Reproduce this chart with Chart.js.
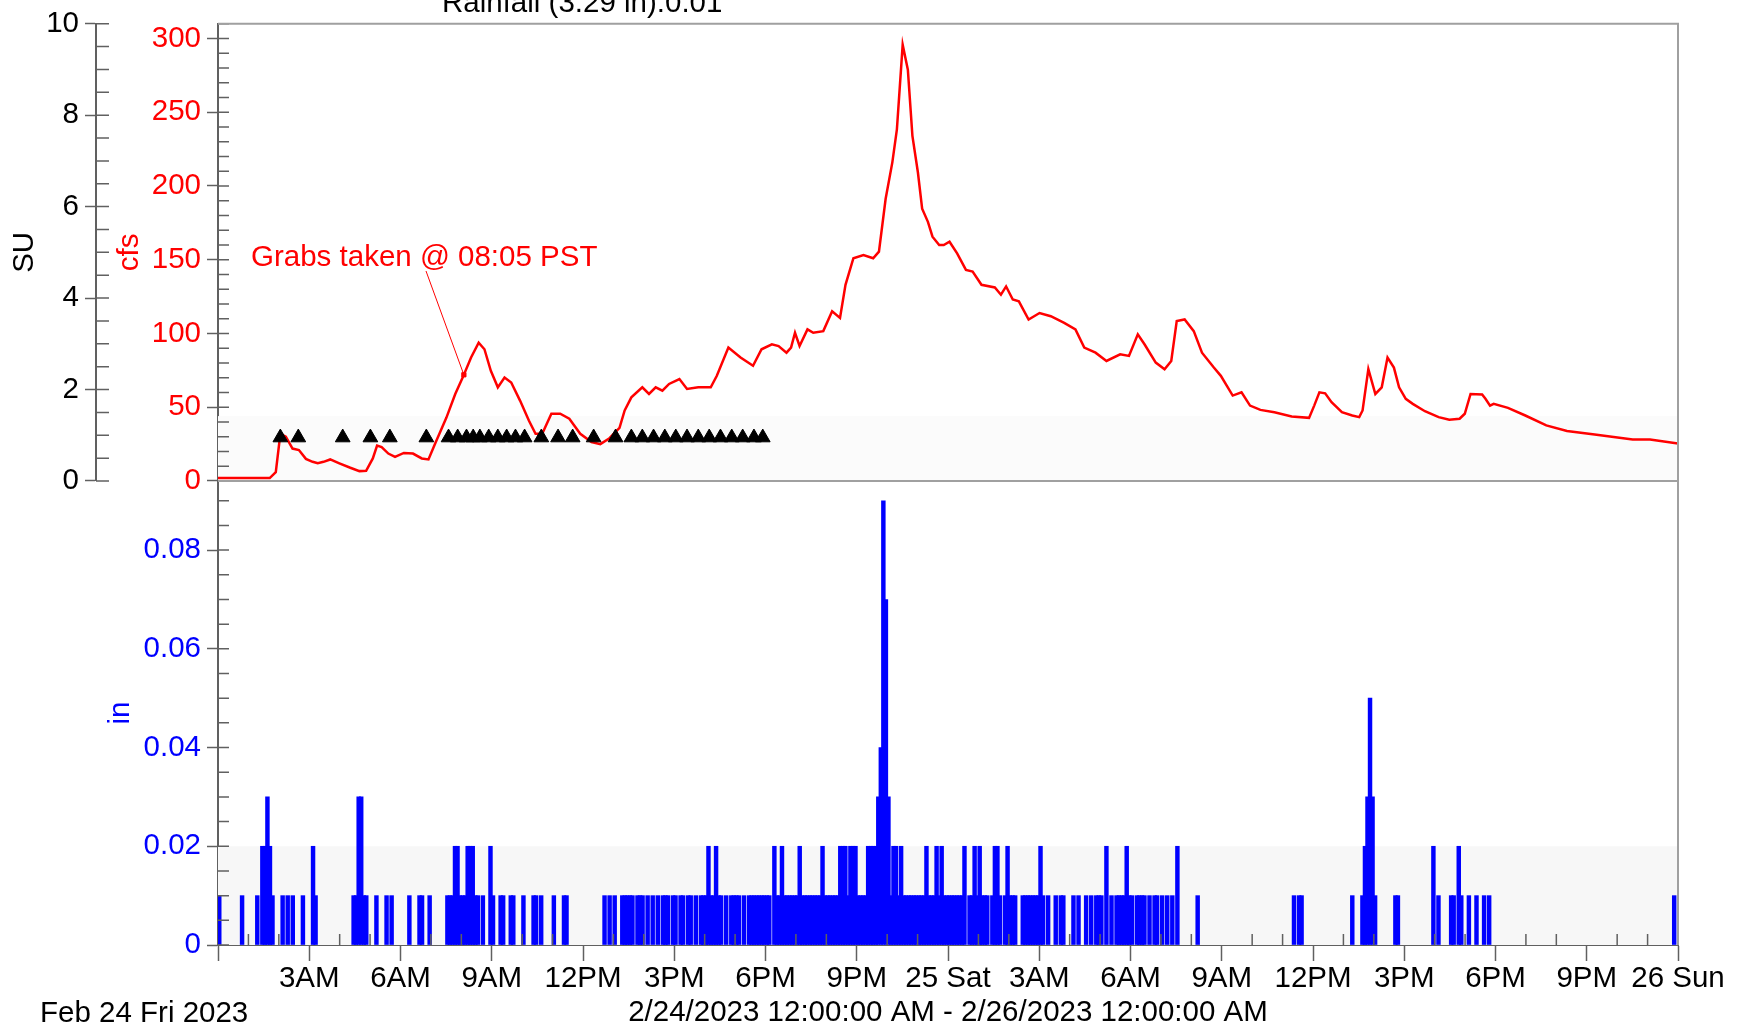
<!DOCTYPE html>
<html>
<head>
<meta charset="utf-8">
<script src="https://cdn.jsdelivr.net/npm/chart.js@4.4.0/dist/chart.umd.min.js"></script>
<style>
  html, body { margin: 0; padding: 0; background: #fff; }
  #wrap { position: relative; width: 1743px; height: 1031px; overflow: hidden;
          font-family: "Liberation Sans", Arial, sans-serif; }
  canvas { position: absolute; left: 0; top: 0; }
  .txt { position: absolute; white-space: nowrap; font-size: 29.5px; line-height: 29.5px; }
</style>
</head>
<body>
<div id="wrap">
  <canvas id="rainChart" width="1743" height="1031"></canvas>
  <canvas id="flowChart" width="1743" height="1031"></canvas>
  <div class="txt" style="left:442px; top:-13px; color:#000;">Rainfall (3.29 in):0.01</div>
  <div class="txt" style="left:251px; top:241px; color:#ff0000;">Grabs taken @ 08:05 PST</div>
  <div class="txt" style="left:40px; top:997px; color:#000;">Feb 24 Fri 2023</div>
</div>

<script>
// --- Data (hours since 2/24/2023 00:00) ---
const flowHours = [
  0, 1.7, 1.9, 2.05, 2.23, 2.45, 2.66, 2.89, 3.11, 3.28, 3.47, 3.69, 3.99, 4.35, 4.65, 4.87,
  5.09, 5.23, 5.38, 5.6, 5.82, 6.11, 6.41, 6.7, 6.92, 7.14, 7.51, 7.8, 8.07, 8.32, 8.57, 8.76,
  8.97, 9.2, 9.42, 9.64, 9.93, 10.22, 10.44, 10.66, 10.96, 11.25, 11.55, 11.91, 12.28,
  12.57, 12.87, 13.2, 13.37, 13.59, 13.95, 14.17, 14.39, 14.61, 14.83, 15.17, 15.42, 15.79,
  16.2, 16.4, 16.78, 17.18, 17.59, 17.87, 18.21, 18.43, 18.69, 18.84, 18.97, 19.12, 19.38,
  19.57, 19.9, 20.19, 20.45, 20.63, 20.89, 21.22, 21.54, 21.73, 21.95, 22.17, 22.32, 22.51,
  22.68, 22.83, 23.01, 23.15, 23.34, 23.49, 23.71, 23.86, 24.05, 24.3, 24.59, 24.81, 25.1,
  25.54, 25.74, 25.91, 26.13, 26.33, 26.65, 27.01, 27.38, 27.82, 28.19, 28.48, 28.85, 29.21,
  29.66, 29.95, 30.24, 30.46, 30.83, 31.12, 31.34, 31.52, 31.78, 32.08,
  32.35, 32.74, 32.97, 33.36, 33.65, 33.93, 34.27, 34.73, 35.3, 35.87, 36.04, 36.21, 36.4,
  36.61, 36.95, 37.29, 37.52, 37.63, 37.82, 38.05, 38.26, 38.45, 38.66, 38.83, 39.05, 39.28,
  39.68, 40.13, 40.48, 40.82, 40.99, 41.18, 41.56, 41.67, 41.82, 41.94, 42.41, 42.98, 43.67,
  44.35, 45.26, 46.51, 47.08, 48
];
const flowCfs = [
  2, 2, 6, 32, 30, 22, 21, 15, 13, 12, 13, 14.6, 12, 9, 6.7, 6.9,
  15.3, 24, 23, 18.6, 16.4, 19, 18.6, 15.3, 14.6, 25.4, 43, 59, 71.3, 83.7, 93.8, 89.3,
  74.7, 63.5, 70.2, 66.8, 54.5, 41, 32, 32, 45.6, 45.6, 42.2, 32, 26.4,
  25, 29, 36, 47.8, 56.7, 63.5, 59, 63.5, 61.2, 65.8, 69.1, 62.4, 63.5,
  63.5, 71.3, 90.4, 83.7, 78.1, 89.3, 92.7, 91.5, 87, 90.4, 100.5, 91.5, 102.8,
  100.5, 101.6, 115.1, 110.6, 133, 151, 153.2, 151, 155.5, 191.3, 216, 238.4, 295.7,
  278.8, 234, 209.3, 184.6, 175.7, 165.6, 160, 160, 162.2, 154.3, 143.1, 142, 133,
  131.2, 126.3, 131.9, 123, 121.8, 109.5, 113.9, 111.7, 107.2, 102.8, 90.4, 87, 81.4,
  85.9, 84.8, 99.4, 92.7, 80.3, 75.8, 81.4, 108.4, 109.5, 101.6,
  87, 76.9, 71.3, 57.9, 60.1, 51.1, 48.2, 46.6, 43.7, 42.8, 51.1, 60.1, 59.4,
  53.4, 46.6, 44.4, 43.3, 47.8, 75.8, 59, 63.5, 83.7, 76.9, 63.5, 55.7, 52.3,
  47.3, 43.3, 41.5, 42.2, 45.6, 59, 58.6, 55.7, 51.1, 52.3, 49.6, 44.4, 37.7,
  33.9, 31.6, 28.1, 28.1, 25.4
];

// sampler events (black triangles), drawn on the SU axis
const sampleHours = [
  2.05, 2.64, 4.1, 5.01, 5.65, 6.85, 7.58, 7.88, 8.17, 8.39, 8.61, 8.9, 9.2, 9.49, 9.78,
  10.08, 10.63, 11.18, 11.66, 12.35, 13.07, 13.59, 13.95, 14.32, 14.69, 15.05, 15.42,
  15.79, 16.15, 16.52, 16.89, 17.25, 17.62, 17.91
];
const sampleSU = 0.95;

const grabHour = 8 + 5 / 60;
const grabCfs = 72;

// rainfall per 5-minute interval, hundredths of an inch (one row per hour)
const rainHundredths = [
  1,0,0,0,0,0,0,0,0,1,0,0,
  0,0,0,1,0,2,2,3,2,1,0,0,
  0,1,0,1,0,1,0,0,0,1,0,0,
  0,2,1,0,0,0,0,0,0,0,0,0,
  0,0,0,0,0,1,1,3,3,1,1,0,
  0,0,1,0,0,0,1,0,1,0,0,0,
  0,0,0,1,0,0,0,1,1,0,0,1,
  0,0,0,0,0,0,1,1,1,2,2,1,
  1,1,2,2,2,1,1,0,1,0,0,2,
  1,0,0,1,1,0,0,1,1,0,0,0,
  1,0,0,0,1,1,0,1,0,0,0,0,
  1,0,0,0,1,1,0,0,0,0,0,0,
  0,0,0,0,0,0,0,0,1,0,1,0,
  1,0,0,1,1,1,1,1,0,1,1,1,
  0,1,0,1,0,1,0,1,1,1,0,1,
  1,0,1,1,0,1,1,0,1,0,1,1,
  1,2,1,1,2,1,1,0,1,0,1,1,
  1,1,0,1,0,1,1,1,1,1,1,1,
  1,1,0,2,1,1,2,1,1,1,1,1,
  1,2,1,1,1,1,1,1,1,1,2,1,
  1,1,1,1,1,2,2,2,1,2,2,2,
  1,1,1,1,2,2,2,2,3,4,9,7,
  3,1,2,2,1,2,1,1,1,1,1,1,
  1,1,1,2,1,1,1,2,1,2,1,1,
  1,1,1,1,1,1,2,0,1,1,2,1,
  2,1,1,1,0,1,2,2,1,0,1,2,
  1,1,1,0,0,1,1,1,1,1,1,1,
  2,1,0,1,0,0,1,0,1,1,0,0,
  0,1,0,1,0,0,1,0,1,0,1,1,
  1,0,2,0,1,0,1,1,1,1,2,1,
  1,0,1,1,1,1,0,1,0,1,1,0,
  1,0,1,0,1,0,2,0,0,0,0,0,
  0,0,1,0,0,0,0,0,0,0,0,0,
  0,0,0,0,0,0,0,0,0,0,0,0,
  0,0,0,0,0,0,0,0,0,0,0,0,
  0,0,0,0,1,0,1,1,0,0,0,0,
  0,0,0,0,0,0,0,0,0,0,0,0,
  0,0,0,1,0,0,0,1,2,3,5,3,
  1,0,0,0,0,0,0,0,1,1,0,0,
  0,0,0,0,0,0,0,0,0,0,0,2,
  0,1,0,0,0,0,1,1,0,2,1,0,
  0,1,0,0,1,0,0,1,0,1,0,0,
  0,0,0,0,0,0,0,0,0,0,0,0,
  0,0,0,0,0,0,0,0,0,0,0,0,
  0,0,0,0,0,0,0,0,0,0,0,0,
  0,0,0,0,0,0,0,0,0,0,0,0,
  0,0,0,0,0,0,0,0,0,0,0,0,
  0,0,0,0,0,0,0,0,0,0,1,0
];

const xTickHours = [0, 3, 6, 9, 12, 15, 18, 21, 24, 27, 30, 33, 36, 39, 42, 45, 48];
const xTickLabels = ['', '3AM', '6AM', '9AM', '12PM', '3PM', '6PM', '9PM', '25 Sat',
                     '3AM', '6AM', '9AM', '12PM', '3PM', '6PM', '9PM', '26 Sun'];
const rangeTitle = '2/24/2023 12:00:00 AM - 2/26/2023 12:00:00 AM';

// --- Common look ---
Chart.defaults.font.family = '"Liberation Sans", Arial, sans-serif';
Chart.defaults.font.size = 29.5;
Chart.defaults.color = '#000';
const axisGray = '#606060';
const frameGray = '#a0a0a0';

// minor ticks drawn inside the plot
const minorTicks = {
  id: 'minorTicks',
  afterDatasetsDraw(chart, args, opts) {
    const ctx = chart.ctx;
    ctx.save();
    ctx.strokeStyle = axisGray;
    ctx.lineWidth = 1.5;
    ctx.beginPath();
    for (const m of opts.list || []) {
      const s = chart.scales[m.axis];
      const n = Math.floor((s.max - s.min) / m.step + 1e-6);
      for (let i = 0; i <= n; i++) {
        if (m.skipEvery && i % m.skipEvery === 0) continue;
        const p = s.getPixelForValue(s.min + i * m.step);
        if (s.isHorizontal()) {
          ctx.moveTo(p, s.top);
          ctx.lineTo(p, s.top - m.len);
        } else {
          ctx.moveTo(s.right, p);
          ctx.lineTo(s.right + m.len, p);
        }
      }
    }
    ctx.stroke();
    ctx.restore();
  }
};

// light background band + plot frame
const panel = {
  id: 'panel',
  beforeDatasetsDraw(chart, args, opts) {
    const {ctx, chartArea: a} = chart;
    if (opts.band) {
      const s = chart.scales[opts.band.axis];
      const y1 = s.getPixelForValue(opts.band.to);
      const y0 = s.getPixelForValue(0);
      ctx.save();
      ctx.fillStyle = opts.band.color;
      ctx.fillRect(a.left, y1, a.right - a.left, y0 - y1);
      ctx.restore();
    }
  },
  afterDatasetsDraw(chart, args, opts) {
    const {ctx, chartArea: a} = chart;
    ctx.save();
    ctx.strokeStyle = frameGray;
    ctx.lineWidth = 2;
    ctx.beginPath();
    ctx.moveTo(a.left, a.top);
    ctx.lineTo(a.right, a.top);
    ctx.lineTo(a.right, a.bottom);
    if (opts.closeBottom) ctx.lineTo(a.left, a.bottom);
    ctx.stroke();
    if (opts.leader) {
      const x = chart.scales.x.getPixelForValue(grabHour);
      const y = chart.scales.cfs.getPixelForValue(grabCfs);
      ctx.strokeStyle = '#ff0000';
      ctx.lineWidth = 1;
      ctx.beginPath();
      ctx.moveTo(opts.leader[0], opts.leader[1]);
      ctx.lineTo(x, y);
      ctx.stroke();
    }
    ctx.restore();
  }
};

// --- Top panel: flow (cfs) + sampler markers (SU) ---
new Chart(document.getElementById('flowChart'), {
  type: 'line',
  data: {
    datasets: [
      {
        data: sampleHours.map(h => ({x: h, y: sampleSU})),
        yAxisID: 'su', showLine: false,
        pointStyle: 'triangle', pointRadius: 8.5,
        pointBackgroundColor: '#000', pointBorderColor: '#000', pointBorderWidth: 1
      },
      {
        data: [{x: grabHour, y: grabCfs}],
        yAxisID: 'cfs', showLine: false,
        pointStyle: 'rect', pointRadius: 3,
        pointBackgroundColor: '#ff0000', pointBorderColor: '#ff0000'
      },
      {
        data: flowHours.map((h, i) => ({x: h, y: flowCfs[i]})),
        yAxisID: 'cfs',
        borderColor: '#ff0000', borderWidth: 2.5,
        pointRadius: 0, tension: 0, fill: false
      }
    ]
  },
  options: {
    responsive: false,
    animation: false,
    devicePixelRatio: 1,
    events: [],
    layout: {padding: {left: 7, top: 20, right: 65, bottom: 550}},
    plugins: {
      legend: {display: false},
      tooltip: {enabled: false},
      minorTicks: {list: [
        {axis: 'su', step: 0.5, len: 13},
        {axis: 'cfs', step: 10, len: 11}
      ]},
      panel: {band: {axis: 'cfs', to: 44, color: '#fbfbfb'}, closeBottom: true, leader: [426, 271]}
    },
    scales: {
      x: {type: 'linear', min: 0, max: 48, display: false},
      su: {
        position: 'left', weight: 1, min: 0, max: 10,
        ticks: {stepSize: 2, padding: 6, color: '#000'},
        grid: {drawOnChartArea: false, tickLength: 11, tickColor: axisGray, tickWidth: 1.5},
        border: {color: axisGray, width: 2},
        title: {display: true, text: 'SU', color: '#000', padding: 0},
        afterFit: s => { s.width = 89; }
      },
      cfs: {
        position: 'left', weight: 0, min: 0, max: 310,
        ticks: {stepSize: 50, includeBounds: false, padding: 6, color: '#ff0000'},
        grid: {drawOnChartArea: false, tickLength: 11, tickColor: axisGray, tickWidth: 1.5},
        border: {color: axisGray, width: 2},
        title: {display: true, text: 'cfs', color: '#ff0000', padding: {top: 16, bottom: 0}},
        afterFit: s => { s.width = 122; }
      }
    }
  },
  plugins: [minorTicks, panel]
});

// --- Bottom panel: rainfall (in) ---
const rainBars = [];
rainHundredths.forEach((v, i) => {
  if (v > 0) rainBars.push({x: (i * 5 + 2.5) / 60, y: v / 100});
});

new Chart(document.getElementById('rainChart'), {
  type: 'bar',
  data: {
    datasets: [{
      data: rainBars,
      backgroundColor: '#0000ff',
      borderWidth: 0,
      barThickness: 3.8,
      grouped: false
    }]
  },
  options: {
    responsive: false,
    animation: false,
    devicePixelRatio: 1,
    events: [],
    layout: {padding: {left: 96, top: 481, right: 65, bottom: 0}},
    plugins: {
      legend: {display: false},
      tooltip: {enabled: false},
      minorTicks: {list: [
        {axis: 'y', step: 0.005, len: 11},
        {axis: 'x', step: 1, len: 11, skipEvery: 3}
      ]},
      panel: {band: {axis: 'y', to: 0.02, color: '#f7f7f7'}, closeBottom: false}
    },
    scales: {
      x: {
        type: 'linear', min: 0, max: 48, offset: false,
        ticks: {
          stepSize: 3, autoSkip: false, maxRotation: 0, padding: 0, color: '#000',
          callback: v => xTickLabels[xTickHours.indexOf(v)]
        },
        grid: {drawOnChartArea: false, offset: false, tickLength: 16, tickColor: axisGray, tickWidth: 1.5},
        border: {color: axisGray, width: 2},
        title: {display: true, text: rangeTitle, color: '#000', padding: 0},
        afterFit: s => { s.height = 86; }
      },
      y: {
        position: 'left', min: 0, max: 0.094,
        ticks: {
          stepSize: 0.02, includeBounds: false, padding: 6, color: '#0000ff',
          callback: v => (v === 0 ? '0' : v.toFixed(2))
        },
        grid: {drawOnChartArea: false, tickLength: 11, tickColor: axisGray, tickWidth: 1.5},
        border: {color: axisGray, width: 2},
        title: {display: true, text: 'in', color: '#0000ff', padding: {top: 7, bottom: 0}},
        afterFit: s => { s.width = 122; }
      }
    }
  },
  plugins: [minorTicks, panel]
});
</script>
</body>
</html>
